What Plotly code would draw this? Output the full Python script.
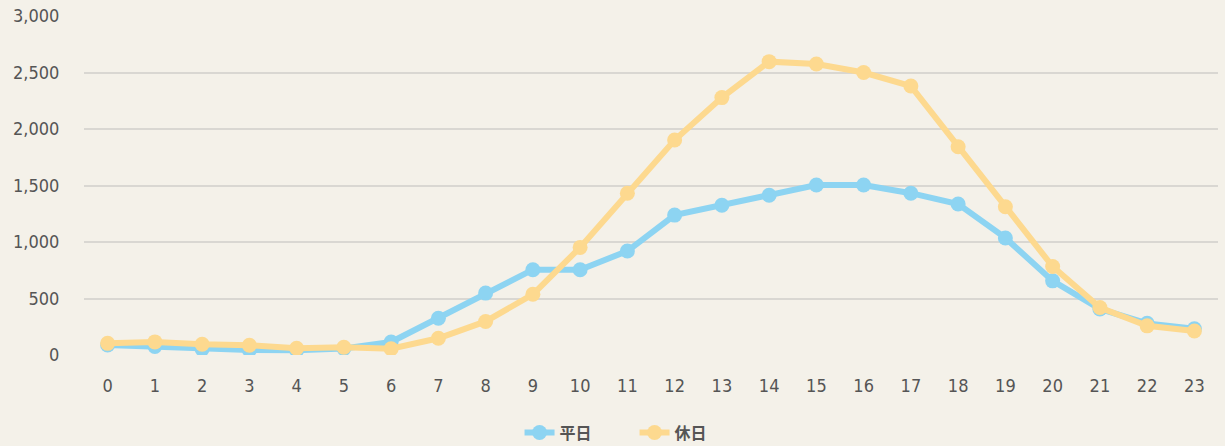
import plotly.graph_objects as go

hours = list(range(24))
weekday = [88, 75, 52, 44, 42, 58, 115, 325, 548, 755, 755, 920, 1238, 1325, 1414, 1504, 1504, 1432, 1336, 1036, 656, 408, 280, 232]
holiday = [103, 116, 95, 86, 60, 68, 55, 148, 297, 537, 952, 1431, 1902, 2278, 2596, 2575, 2500, 2380, 1843, 1312, 783, 420, 258, 212]
y_ticks = [0, 500, 1000, 1500, 2000, 2500, 3000]

BLUE = "#8DD4F2"
ORANGE = "#FDD98F"
TEXT = "#555555"
tickfont = dict(family="DejaVu Sans Condensed, Roboto, sans-serif", size=18, color=TEXT)

fig = go.Figure()
fig.add_trace(go.Scatter(x=hours, y=weekday, name="平日", mode="lines+markers",
                         line=dict(color=BLUE, width=6), marker=dict(color=BLUE, size=15)))
fig.add_trace(go.Scatter(x=hours, y=holiday, name="休日", mode="lines+markers",
                         line=dict(color=ORANGE, width=6), marker=dict(color=ORANGE, size=15)))

fig.update_layout(
    width=1225, height=446,
    paper_bgcolor="#F4F1E9", plot_bgcolor="#F4F1E9",
    margin=dict(l=84, r=7, t=16, b=91, autoexpand=False),
    showlegend=True,
    legend=dict(orientation="h", x=0.518, xanchor="center", xref="container",
                y=0.03, yanchor="middle", yref="container",
                font=dict(family="Noto Sans CJK JP, sans-serif", size=16, color=TEXT, weight="bold"),
                bgcolor="rgba(0,0,0,0)", entrywidth=70, entrywidthmode="pixels"),
    xaxis=dict(range=[-0.5, 23.5], tickmode="array", tickvals=hours, ticktext=[str(h) for h in hours],
               showgrid=False, zeroline=False, showline=False, tickfont=tickfont, automargin=False,
               ticks="outside", ticklen=14, tickcolor="rgba(0,0,0,0)"),
    yaxis=dict(range=[0, 3000], tickmode="array", tickvals=y_ticks, ticktext=[f"{v:,}" for v in y_ticks],
               showgrid=True, gridcolor="#D9D7D2", gridwidth=2, zeroline=False, showline=False,
               tickfont=tickfont, automargin=False,
               ticks="outside", ticklen=20, tickcolor="rgba(0,0,0,0)"),
)
fig.write_html("out.html", config={"displayModeBar": False},
               post_script="document.body.style.margin='0';document.body.style.background='#F4F1E9';")
